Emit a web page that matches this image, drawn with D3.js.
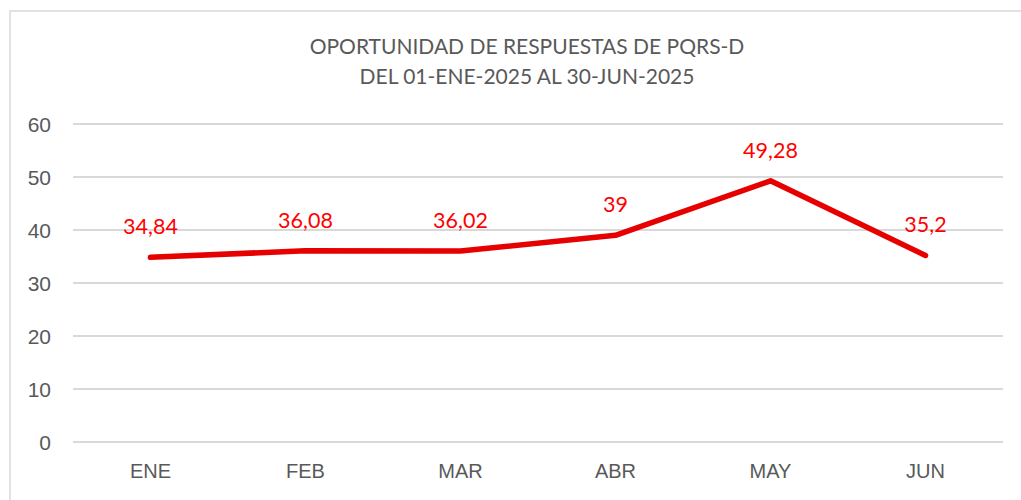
<!DOCTYPE html>
<html lang="es">
<head>
<meta charset="UTF-8">
<title>Oportunidad de respuestas de PQRS-D</title>
<script src="https://d3js.org/d3.v7.min.js"></script>
<style>
  body { margin: 0; background: #ffffff; font-family: 'Lato', 'Open Sans', sans-serif; }
  .grid line { stroke: #d9d9d9; stroke-width: 2px; }
  .tick text { fill: #595959; font-size: 21px; }
</style>
</head>
<body>
<div id="chart"></div>
<script>
  const months = ["ENE", "FEB", "MAR", "ABR", "MAY", "JUN"];
  const values = [34.84, 36.08, 36.02, 39, 49.28, 35.2];
  const labels = ["34,84", "36,08", "36,02", "39", "49,28", "35,2"];
  const yTicks = [0, 10, 20, 30, 40, 50, 60];
  const titleLines = ["OPORTUNIDAD DE RESPUESTAS DE PQRS-D", "DEL 01-ENE-2025 AL 30-JUN-2025"];

  const width = 1021, height = 500;
  const margin = { left: 73, right: 18, top: 124, bottom: 58 };

  const svg = d3.select("#chart").append("svg")
    .attr("width", width)
    .attr("height", height);

  // chart border
  svg.append("rect")
    .attr("x", 10).attr("y", 11)
    .attr("width", width + 20).attr("height", height + 20)
    .attr("fill", "none")
    .attr("stroke", "#d9d9d9")
    .attr("stroke-width", 1.5);

  const x = d3.scaleBand()
    .domain(months)
    .range([margin.left, width - margin.right]);

  const y = d3.scaleLinear()
    .domain([0, 60])
    .range([height - margin.bottom, margin.top]);

  // gridlines
  svg.append("g")
    .attr("class", "grid")
    .selectAll("line")
    .data(yTicks)
    .enter().append("line")
    .attr("x1", margin.left)
    .attr("x2", width - margin.right)
    .attr("y1", d => y(d))
    .attr("y2", d => y(d));

  // y axis labels
  const yAxis = svg.append("g")
    .attr("transform", `translate(${margin.left - 22},0)`)
    .call(d3.axisLeft(y).tickValues(yTicks).tickSize(0).tickPadding(0));
  yAxis.select(".domain").remove();
  yAxis.selectAll("text").attr("dy", "0.35em");

  // x axis labels
  const xAxis = svg.append("g")
    .attr("transform", `translate(0,${height - margin.bottom + 22})`)
    .call(d3.axisBottom(x).tickSize(0).tickPadding(0));
  xAxis.select(".domain").remove();
  xAxis.selectAll("text").attr("dy", "0.71em").style("font-size", "20px");

  // title
  svg.append("g").selectAll("text")
    .data(titleLines)
    .enter().append("text")
    .attr("x", 527)
    .attr("y", (d, i) => 54 + i * 30)
    .attr("text-anchor", "middle")
    .attr("fill", "#595959")
    .attr("font-size", "21px")
    .text(d => d);

  const data = months.map((m, i) => ({ m, v: values[i], label: labels[i] }));

  const line = d3.line()
    .x(d => x(d.m) + x.bandwidth() / 2)
    .y(d => y(d.v));

  svg.append("path")
    .datum(data)
    .attr("d", line)
    .attr("fill", "none")
    .attr("stroke", "#e60000")
    .attr("stroke-width", 5.5)
    .attr("stroke-linecap", "round")
    .attr("stroke-linejoin", "round");

  svg.append("g").selectAll("text")
    .data(data)
    .enter().append("text")
    .attr("x", d => x(d.m) + x.bandwidth() / 2)
    .attr("y", d => y(d.v) - 23)
    .attr("text-anchor", "middle")
    .attr("fill", "#ff0000")
    .attr("font-size", "21.5px")
    .text(d => d.label);
</script>
</body>
</html>
